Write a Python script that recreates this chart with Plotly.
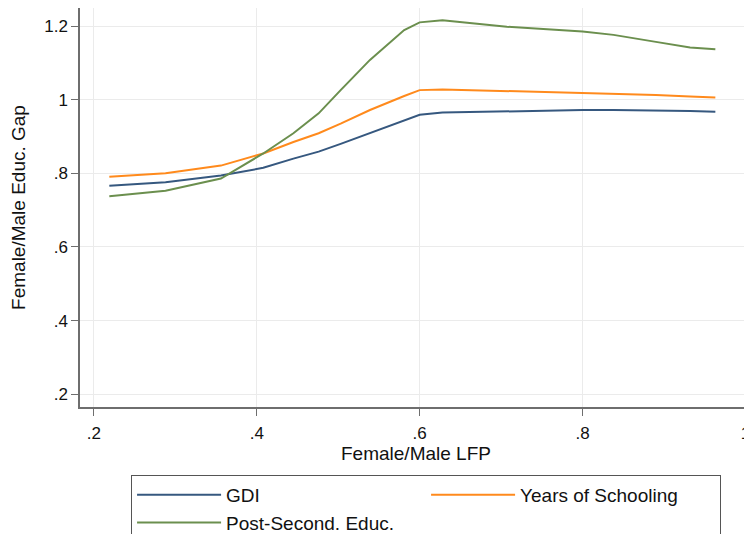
import plotly.graph_objects as go

lfp = [0.219, 0.288, 0.356, 0.408, 0.445, 0.476, 0.503, 0.539, 0.581, 0.600,
       0.628, 0.707, 0.800, 0.838, 0.890, 0.932, 0.963]
gdi = [0.766, 0.776, 0.794, 0.815, 0.840, 0.859, 0.880, 0.910, 0.945, 0.959,
       0.965, 0.969, 0.972, 0.972, 0.971, 0.969, 0.967]
years_school = [0.791, 0.800, 0.821, 0.854, 0.885, 0.909, 0.935, 0.972, 1.010, 1.026,
                1.028, 1.024, 1.019, 1.017, 1.013, 1.009, 1.006]
post_second = [0.738, 0.753, 0.786, 0.854, 0.909, 0.963, 1.026, 1.108, 1.189, 1.210,
               1.216, 1.198, 1.185, 1.176, 1.157, 1.142, 1.137]

x_ticks = [0.2, 0.4, 0.6, 0.8, 1.0]
x_ticklabels = [".2", ".4", ".6", ".8", "1"]
y_ticks = [0.2, 0.4, 0.6, 0.8, 1.0, 1.2]
y_ticklabels = [".2", ".4", ".6", ".8", "1", "1.2"]

FONT = "Liberation Sans, Arial, sans-serif"

fig = go.Figure()
fig.add_trace(go.Scatter(x=lfp, y=gdi, mode="lines", name="GDI",
                         line=dict(color="#36587f", width=2)))
fig.add_trace(go.Scatter(x=lfp, y=years_school, mode="lines", name="Years of Schooling",
                         line=dict(color="#ff8a1c", width=2)))
fig.add_trace(go.Scatter(x=lfp, y=post_second, mode="lines", name="Post-Second. Educ.",
                         line=dict(color="#6b8f4e", width=2)))

# page body adds an 8px offset, so the figure is 8px smaller than the window
fig.update_layout(
    width=744, height=526,
    margin=dict(l=72, r=0, t=0, b=127, autoexpand=False),
    paper_bgcolor="white", plot_bgcolor="white",
    font=dict(family=FONT, color="#111111"),
    showlegend=True,
    legend=dict(
        orientation="h", x=0.076, xanchor="left", y=-0.170, yanchor="top",
        bordercolor="#555555", borderwidth=1, bgcolor="white",
        font=dict(size=19, family=FONT, color="#111111"),
        entrywidth=195, entrywidthmode="pixels",
        itemwidth=84, tracegroupgap=0,
        traceorder="normal",
    ),
    xaxis=dict(
        range=[0.183, 1.008], tickvals=x_ticks, ticktext=x_ticklabels,
        automargin=False, ticklabeloverflow="allow",
        showgrid=True, gridcolor="#ebebeb", gridwidth=1, zeroline=False,
        showline=True, linecolor="#6e6e6e", linewidth=1.5,
        ticks="outside", ticklen=7, tickcolor="#6e6e6e",
        ticklabelstandoff=3,
        tickfont=dict(size=17, family=FONT, color="#111111"),
        title=dict(text="Female/Male LFP", font=dict(size=19, family=FONT, color="#111111"),
                   standoff=0),
    ),
    yaxis=dict(
        range=[0.1655, 1.249], tickvals=y_ticks, ticktext=y_ticklabels,
        automargin=False,
        showgrid=True, gridcolor="#ebebeb", gridwidth=1, zeroline=False,
        showline=True, linecolor="#6e6e6e", linewidth=1.5,
        ticks="outside", ticklen=7, tickcolor="#6e6e6e",
        tickfont=dict(size=17, family=FONT, color="#111111"),
        title=dict(text="Female/Male Educ. Gap", font=dict(size=19, family=FONT, color="#111111"),
                   standoff=20),
    ),
)

fig.write_html("out.html")
